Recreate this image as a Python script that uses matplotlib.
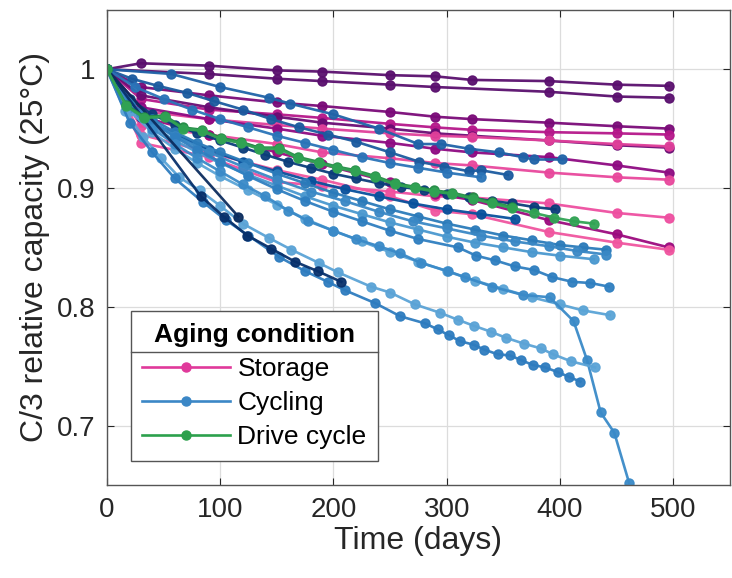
import matplotlib
matplotlib.use("Agg")
import matplotlib.pyplot as plt
from matplotlib.lines import Line2D

plt.rcParams['font.family'] = ['Liberation Sans', 'DejaVu Sans']

# ---- storage (calendar aging) ----
st_days_full = [0, 30, 90, 150, 190, 250, 290, 322, 390, 450, 496]
storage = [
    ('#5a0f6e', st_days_full, [1, 1.005, 1.003, 0.999, 0.998, 0.995, 0.994, 0.991, 0.990, 0.987, 0.986]),
    ('#5a0f6e', [0, 90, 150, 190, 250, 290, 390, 450, 496], [1, 0.996, 0.992, 0.990, 0.987, 0.985, 0.981, 0.977, 0.976]),
    ('#7a0a78', st_days_full, [1, 0.985, 0.978, 0.972, 0.969, 0.964, 0.960, 0.958, 0.955, 0.952, 0.950]),
    ('#b5178a', st_days_full, [1, 0.975, 0.966, 0.962, 0.959, 0.954, 0.951, 0.949, 0.947, 0.946, 0.945]),
    ('#6a0c74', st_days_full, [1, 0.978, 0.968, 0.960, 0.955, 0.950, 0.946, 0.944, 0.940, 0.936, 0.934]),
    ('#e0409a', st_days_full, [1, 0.965, 0.958, 0.953, 0.950, 0.946, 0.944, 0.943, 0.940, 0.937, 0.935]),
    ('#8e0a82', st_days_full, [1, 0.968, 0.958, 0.950, 0.944, 0.938, 0.933, 0.930, 0.926, 0.919, 0.913]),
    ('#e8479c', st_days_full, [1, 0.952, 0.945, 0.937, 0.930, 0.925, 0.921, 0.919, 0.913, 0.909, 0.907]),
    ('#ee4fa0', st_days_full, [1, 0.938, 0.926, 0.905, 0.902, 0.897, 0.893, 0.892, 0.887, 0.879, 0.875]),
    ('#9c0a7e', st_days_full, [1, 0.960, 0.945, 0.930, 0.920, 0.905, 0.895, 0.890, 0.873, 0.861, 0.850]),
    ('#f0559f', st_days_full, [1, 0.945, 0.930, 0.915, 0.907, 0.893, 0.881, 0.878, 0.863, 0.854, 0.848]),
]

# ---- cycling ----
cycling = [
    ('#1f63a8', [0, 57, 100, 143, 162, 200, 240, 275, 295, 320, 346, 367, 377, 402],
     [1, 0.996, 0.985, 0.976, 0.971, 0.962, 0.950, 0.937, 0.937, 0.933, 0.930, 0.926, 0.924, 0.924]),
    ('#1b5b9f', [0, 22, 45, 71, 95, 120, 145, 170, 195, 220, 250, 276, 298, 320, 330, 354],
     [1, 0.992, 0.986, 0.980, 0.973, 0.966, 0.958, 0.951, 0.945, 0.939, 0.930, 0.922, 0.918, 0.914, 0.915, 0.911]),
    ('#2a74b8', [0, 25, 50, 75, 100, 125, 150, 175, 200, 225, 250, 275, 300, 330],
     [1, 0.985, 0.975, 0.966, 0.958, 0.951, 0.944, 0.938, 0.932, 0.926, 0.921, 0.917, 0.913, 0.909]),
    ('#0b3d7a', [0, 20, 40, 60, 80, 100, 120, 140, 160, 180, 200, 220, 240, 260, 280, 300, 320, 340, 358, 377, 396],
     [1, 0.975, 0.962, 0.953, 0.946, 0.940, 0.934, 0.928, 0.922, 0.917, 0.912, 0.908, 0.904, 0.901, 0.898, 0.895, 0.892, 0.889, 0.887, 0.884, 0.882]),
    ('#08519c', [0, 30, 60, 90, 120, 150, 180, 210, 240, 270, 300, 330, 360],
     [1, 0.960, 0.945, 0.932, 0.922, 0.914, 0.906, 0.899, 0.893, 0.887, 0.882, 0.878, 0.874]),
    ('#2b7bba', [0, 20, 40, 60, 80, 100, 125, 150, 175, 200, 225, 250, 275, 300, 325, 350, 375, 400, 420, 441],
     [1, 0.972, 0.958, 0.947, 0.938, 0.930, 0.921, 0.912, 0.904, 0.896, 0.889, 0.882, 0.876, 0.870, 0.865, 0.860, 0.856, 0.852, 0.850, 0.848]),
    ('#4a98cf', [0, 20, 40, 60, 80, 100, 125, 150, 175, 200, 225, 250, 275, 300, 325, 350, 375, 400, 430],
     [1, 0.968, 0.952, 0.940, 0.930, 0.921, 0.911, 0.902, 0.893, 0.885, 0.878, 0.871, 0.865, 0.859, 0.854, 0.850, 0.846, 0.843, 0.840]),
    ('#3a88c5', [0, 30, 60, 90, 120, 150, 180, 210, 240, 270, 300, 330, 360, 390, 415, 441],
     [1, 0.962, 0.944, 0.930, 0.918, 0.907, 0.897, 0.889, 0.880, 0.872, 0.866, 0.860, 0.855, 0.851, 0.847, 0.844]),
    ('#2f7fc0', [0, 20, 40, 60, 80, 100, 125, 150, 175, 200, 225, 250, 275, 310, 326, 343, 360, 377, 393, 411, 427, 443],
     [1, 0.970, 0.955, 0.943, 0.932, 0.922, 0.910, 0.899, 0.889, 0.880, 0.872, 0.864, 0.857, 0.850, 0.843, 0.839, 0.834, 0.831, 0.825, 0.821, 0.820, 0.817]),
    ('#5aa4d6', [0, 20, 40, 60, 80, 100, 125, 150, 175, 200, 225, 250, 275, 300, 325, 350, 375, 400, 420, 444],
     [1, 0.965, 0.947, 0.933, 0.921, 0.910, 0.898, 0.886, 0.874, 0.864, 0.855, 0.846, 0.838, 0.830, 0.822, 0.815, 0.808, 0.802, 0.797, 0.793]),
    ('#3a8ac8', [0, 20, 40, 60, 80, 100, 120, 140, 160, 178, 200, 220, 240, 259, 277, 301, 316, 340, 367, 391, 412, 424, 436, 448, 461],
     [1, 0.968, 0.950, 0.937, 0.925, 0.914, 0.903, 0.893, 0.881, 0.872, 0.864, 0.857, 0.851, 0.845, 0.837, 0.830, 0.825, 0.817, 0.810, 0.808, 0.788, 0.755, 0.711, 0.694, 0.652]),
    ('#5ba3d6', [0, 16, 32, 48, 64, 82, 100, 120, 143, 163, 187, 204, 233, 250, 272, 294, 310, 324, 339, 352, 368, 383, 394, 410, 431],
     [1, 0.965, 0.943, 0.925, 0.909, 0.898, 0.885, 0.870, 0.858, 0.848, 0.837, 0.829, 0.817, 0.812, 0.802, 0.795, 0.789, 0.784, 0.779, 0.774, 0.769, 0.765, 0.760, 0.754, 0.749]),
    ('#2e7cbf', [0, 20, 40, 60, 85, 105, 125, 152, 175, 195, 210, 237, 259, 281, 292, 302, 312, 324, 333, 345, 356, 366, 376, 387, 398, 408, 418],
     [1, 0.955, 0.930, 0.908, 0.888, 0.873, 0.860, 0.842, 0.830, 0.821, 0.814, 0.803, 0.792, 0.786, 0.781, 0.776, 0.771, 0.768, 0.764, 0.760, 0.759, 0.755, 0.751, 0.749, 0.745, 0.741, 0.737]),
    ('#08306b', [0, 83, 103, 124, 145, 166, 186, 207],
     [1, 0.893, 0.876, 0.860, 0.849, 0.838, 0.830, 0.821]),
    ('#0b2c5e', [0, 116], [1, 0.876]),
]

# ---- drive cycle ----
drive = [
    ('#238b45', [0, 17, 33, 51, 67, 84, 101, 118, 134, 152, 169, 187, 203, 219, 237, 254, 272, 289, 305, 323, 340, 358],
     [1, 0.970, 0.960, 0.961, 0.951, 0.949, 0.942, 0.939, 0.934, 0.934, 0.926, 0.922, 0.918, 0.915, 0.910, 0.904, 0.901, 0.898, 0.896, 0.892, 0.888, 0.884]),
    ('#31a354', [0, 17, 33, 51, 67, 84, 101, 118, 134, 152, 169, 187, 203, 219, 237, 254, 272, 289, 305, 323, 340, 358, 377, 395, 412, 430],
     [1, 0.969, 0.959, 0.960, 0.950, 0.948, 0.941, 0.938, 0.933, 0.933, 0.925, 0.921, 0.917, 0.914, 0.909, 0.903, 0.900, 0.897, 0.895, 0.891, 0.887, 0.883, 0.879, 0.875, 0.872, 0.870]),
]

fig = plt.figure(figsize=(7.32, 5.78), dpi=100)
ax = fig.add_axes([0.146, 0.161, 0.851, 0.822])

for grp in (storage, cycling, drive):
    for col, d, v in grp:
        ax.plot(d, v, '-o', color=col, lw=1.9, ms=6.5, alpha=0.95)

ax.set_xlim(0, 550)
ax.set_ylim(0.65, 1.05)
ax.set_xticks([0, 100, 200, 300, 400, 500])
ax.set_yticks([0.7, 0.8, 0.9, 1.0])
ax.set_yticklabels(['0.7', '0.8', '0.9', '1'])
ax.grid(True, color='#dcdcdc', lw=0.9)
ax.set_axisbelow(True)
ax.tick_params(direction='in', top=True, right=True, labelsize=20, colors='#262626', length=5)
ax.tick_params(axis='x', pad=9)
ax.tick_params(axis='y', pad=8)
for s in ax.spines.values():
    s.set_color('#555555')
    s.set_linewidth(1.0)
ax.set_xlabel('Time (days)', fontsize=23, color='#262626', labelpad=2)
ax.set_ylabel('C/3 relative capacity (25°C)', fontsize=23, color='#262626', labelpad=5)

handles = [
    Line2D([], [], color='#e0399a', marker='o', lw=1.9, ms=6.5),
    Line2D([], [], color='#3b87c6', marker='o', lw=1.9, ms=6.5),
    Line2D([], [], color='#2ca04c', marker='o', lw=1.9, ms=6.5),
]
leg = ax.legend(handles, ['Storage', 'Cycling', 'Drive cycle'], title='Aging condition',
                loc='lower left', bbox_to_anchor=(0.038, 0.05), fontsize=19,
                title_fontproperties={'weight': 'bold', 'size': 19},
                fancybox=False, edgecolor='#555555', framealpha=1,
                handlelength=3.3, handletextpad=0.3, borderpad=0.45,
                labelspacing=0.38, borderaxespad=0)
leg.get_frame().set_linewidth(1.0)

# separator line under legend title
fig.canvas.draw()
r = fig.canvas.get_renderer()
fb = leg.get_frame().get_window_extent(r)
tb = leg.get_title().get_window_extent(r)
ysep = tb.y0 - 5
inv = fig.transFigure.inverted()
(x0, y0) = inv.transform((fb.x0, ysep))
(x1, _) = inv.transform((fb.x1, ysep))
fig.add_artist(Line2D([x0, x1], [y0, y0], color='#555555', lw=1.0, zorder=10))

fig.savefig('out.png', dpi=100)
